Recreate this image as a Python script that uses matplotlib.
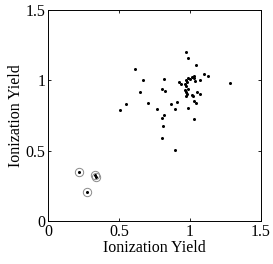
import matplotlib
matplotlib.use("Agg")
import matplotlib.pyplot as plt

# main cluster
x_main = [0.969, 0.986, 1.044, 0.612, 1.100, 1.130, 1.283, 0.668, 0.815, 0.920,
          0.934, 0.969, 0.986, 1.000, 1.014, 1.028, 1.032, 0.976, 0.967, 1.037,
          1.072, 0.972, 0.647, 0.806, 0.825, 0.962, 0.983, 0.969, 0.976, 1.049,
          1.074, 0.969, 1.011, 1.023, 0.706, 0.547, 0.505, 0.766, 0.864, 0.909,
          0.897, 0.983, 1.030, 1.046, 0.820, 0.804, 1.025, 0.808, 0.806, 0.895]
y_main = [1.201, 1.156, 1.111, 1.080, 1.047, 1.033, 0.981, 1.002, 1.011, 0.986,
          0.976, 1.002, 1.019, 1.007, 1.021, 1.033, 1.016, 0.986, 0.972, 0.995,
          1.000, 0.959, 0.919, 0.936, 0.922, 0.931, 0.938, 0.917, 0.900, 0.915,
          0.903, 0.886, 0.895, 0.891, 0.839, 0.829, 0.789, 0.798, 0.829, 0.846,
          0.796, 0.803, 0.851, 0.841, 0.751, 0.730, 0.723, 0.673, 0.588, 0.505]

# circled outliers
x_out = [0.215, 0.334, 0.336, 0.278]
y_out = [0.348, 0.330, 0.314, 0.204]

ticks = [0, 0.5, 1, 1.5]
tick_labels = ["0", "0.5", "1", "1.5"]

plt.rcParams["font.family"] = ["Liberation Serif", "DejaVu Serif"]

fig = plt.figure(figsize=(2.73, 2.64), dpi=100)
ax = fig.add_axes([0.1758, 0.1629, 0.780, 0.799])

ax.plot(x_main, y_main, "o", color="black", markersize=2.2, markeredgewidth=0)
ax.plot(x_out, y_out, "o", color="black", markersize=2.2, markeredgewidth=0)
ax.plot(x_out, y_out, "o", markerfacecolor="none", markeredgecolor="#8a8a8a",
        markersize=6.0, markeredgewidth=0.7)

ax.set_xlim(0, 1.5)
ax.set_ylim(0, 1.5)
ax.set_xticks(ticks)
ax.set_xticklabels(tick_labels)
ax.set_yticks(ticks)
ax.set_yticklabels(tick_labels)
ax.tick_params(direction="in", length=2.5, width=0.6, top=True, right=True,
               labelsize=11.5, pad=2)
for s in ax.spines.values():
    s.set_linewidth(0.7)

ax.set_xlabel("Ionization Yield", fontsize=11.5, labelpad=0)
ax.set_ylabel("Ionization Yield", fontsize=11.5, labelpad=1)

fig.savefig("out.png", dpi=100)
